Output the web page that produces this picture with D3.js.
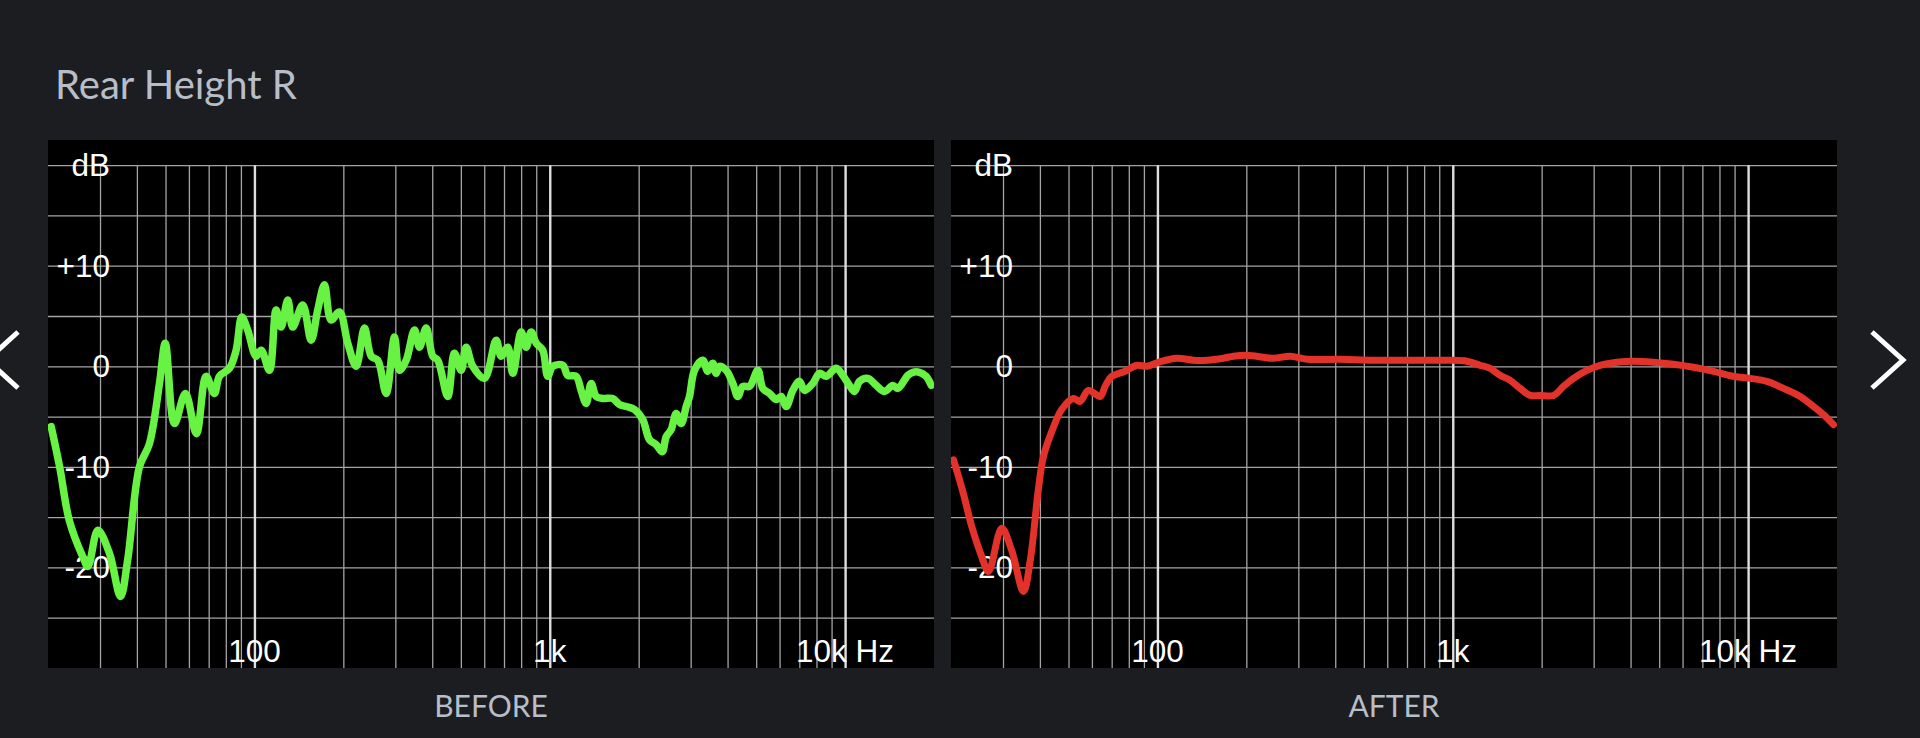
<!DOCTYPE html>
<html>
<head>
<meta charset="utf-8">
<script src="https://cdn.jsdelivr.net/npm/d3@7"></script>
<style>
html, body { margin: 0; padding: 0; background: #1c1d21; overflow: hidden; }
svg { display: block; }
</style>
</head>
<body>
<svg id="chart" width="1920" height="738"></svg>
<script>
// measured response, Hz / dB
var beforeFreq = [20.5, 21.9, 23.6, 26.2, 27.3, 29.5, 32.3, 35.2, 37.2, 40.8, 44.1, 47.7, 49.9, 53.6, 58.4, 63.6,
    68.6, 73.2, 76.1, 82.3, 86.7, 90.6, 94.9, 101.3, 105.4, 112.4, 118.4, 123.1, 129.7, 134.8, 145.7, 155.6,
    163.8, 172.6, 181.8, 194, 207, 221, 235.8, 248.5, 261.6, 279.3, 298, 309.7, 326.4, 348.3, 362.2, 381.4,
    401.7, 417.6, 451.4, 475.6, 501.2, 521.1, 548.6, 600.9, 658.5, 684.6, 720.8, 749.4, 800.1, 831.9, 865,
    899.4, 946.9, 984.5, 1024, 1107, 1151, 1229, 1277, 1328, 1381, 1436, 1512, 1634, 1722, 1814, 1936, 2065,
    2176, 2293, 2403, 2479, 2577, 2679, 2786, 2897, 2973, 3090, 3297, 3428, 3565, 3660, 3755, 3957, 4166,
    4332, 4504, 4747, 5064, 5264, 5546, 5846, 6076, 6318, 6651, 7009, 7288, 7776, 8190, 8630, 9331, 9822,
    10350, 10760, 11190, 11940, 12750, 13600, 14510, 15080, 16310, 16960, 17860, 18820, 19570];
var beforeDb = [-6.0, -10.0, -15.3, -18.9, -19.9, -16.3, -18.6, -22.9, -19.3, -10.0, -7.7, -1.7, 2.3, -5.7, -2.7, -6.7,
    -1.0, -2.7, -1.0, -0.2, 1.6, 4.9, 3.6, 1.0, 1.6, -0.4, 5.6, 3.9, 6.6, 3.9, 6.1, 2.6,
    5.6, 8.1, 4.6, 5.4, 2.3, 0.0, 3.8, 1.0, 0.6, -2.7, 2.9, -0.4, 0.6, 3.6, 1.9, 3.8,
    1.0, 0.6, -3.0, 1.3, -0.4, 1.9, 0.0, -1.2, 2.6, 1.0, 1.9, -0.7, 3.4, 1.9, 3.4,
    2.3, 1.6, -1.0, 0.0, 0.1, -0.9, -1.0, -2.4, -3.7, -1.7, -3.0, -3.2, -3.2, -3.8, -4.0, -4.3, -5.3,
    -7.3, -7.8, -8.5, -7.0, -6.3, -4.7, -5.7, -4.0, -3.0, -0.4, 0.6, -0.5, 0.3, -0.7, 0.0, -0.4, -1.7,
    -3.0, -2.0, -2.0, -0.4, -2.2, -2.7, -3.3, -3.0, -4.0, -2.4, -1.5, -2.4, -1.7, -0.7, -1.0, -0.2, -0.9,
    -1.9, -2.5, -1.5, -1.2, -1.9, -2.5, -1.9, -2.2, -0.9, -0.6, -0.6, -1.0, -1.9];

var afterFreq = [20.4, 22.0, 23.5, 25.4, 26.8, 29.7, 32.1, 35.2, 37.1, 39.5, 41.1, 44.4, 47.4, 51.9, 54.7, 58.4,
    64.0, 66.5, 70.1, 77.7, 85.2, 92.1, 100.8, 116.3, 132.4, 147, 167.3, 180.9, 200.8, 247.1, 281.5, 320.6,
    415.6, 539, 775.7, 979.9, 1116, 1238, 1338, 1447, 1565, 1692, 1829, 1977, 2193, 2371, 2563, 2846,
    3156, 3595, 4092, 4782, 5590, 6533, 7636, 8926, 10160, 11580, 13180, 15010, 16650, 18000, 19460];
var afterDb = [-9.3, -12.6, -15.9, -18.9, -20.4, -16.1, -18.3, -22.4, -19.3, -12.3, -9.0, -6.1, -4.3, -3.2, -3.5, -2.4,
    -3.0, -2.0, -1.0, -0.5, 0.1, 0.0, 0.4, 0.8, 0.6, 0.6, 0.8, 1.0, 1.1, 0.8, 1.0, 0.7,
    0.7, 0.6, 0.6, 0.6, 0.5, 0.1, -0.2, -0.9, -1.4, -2.2, -2.9, -2.9, -2.9, -2.0, -1.2, -0.4,
    0.1, 0.4, 0.5, 0.4, 0.2, -0.1, -0.5, -1.0, -1.2, -1.5, -2.2, -3.0, -4.0, -4.8, -5.8];

var gridDb = [-25, -20, -15, -10, -5, 0, 5, 10, 15, 20];
var yTickDb = [20, 10, 0, -10, -20];
var yTickLabels = ['dB', '+10', '0', '-10', '-20'];
var xTickFreqs = [100, 1000, 10000];
var xTickLabels = ['100', '1k', '10k Hz'];

var panels = [
    {name: 'BEFORE', left: 48, freq: beforeFreq, db: beforeDb, color: '#68f243', width: 7.5},
    {name: 'AFTER', left: 951, freq: afterFreq, db: afterDb, color: '#e3322a', width: 7}
];

var W = 886, plotTop = 140, plotBottom = 668;
var svg = d3.select('#chart');

svg.append('text')
    .attr('x', 55)
    .attr('y', 99)
    .attr('fill', '#b8bec8')
    .style('font', '40px Lato')
    .text('Rear Height R');

var y = d3.scaleLinear().domain([-30, 22.5]).range([plotBottom, plotTop]);

panels.forEach(function(p, pi) {
    var x = d3.scaleLog().domain([20, 20000]).range([p.left, p.left + W]);
    var g = svg.append('g');

    g.append('rect')
        .attr('x', p.left).attr('y', plotTop)
        .attr('width', W).attr('height', plotBottom - plotTop)
        .attr('fill', '#000');

    // horizontal grid
    g.append('g')
        .attr('transform', 'translate(' + p.left + ',0)')
        .call(d3.axisLeft(y).tickValues(gridDb).tickSize(-W).tickFormat(''))
        .call(function(a) {
            a.select('.domain').remove();
            a.selectAll('line').attr('stroke', '#a4a4a4').attr('stroke-width', 1.3);
        });

    // vertical grid, decades brighter
    var vt = x.ticks().filter(function(f) { return f > 20 && f < 20000; });
    g.append('g')
        .attr('transform', 'translate(0,' + plotBottom + ')')
        .call(d3.axisBottom(x).tickValues(vt).tickSize(-(plotBottom - y(20))).tickFormat(''))
        .call(function(a) {
            a.select('.domain').remove();
            a.selectAll('line')
                .attr('stroke', function(f) { return xTickFreqs.indexOf(f) >= 0 ? '#dedede' : '#a4a4a4'; })
                .attr('stroke-width', function(f) { return xTickFreqs.indexOf(f) >= 0 ? 2.4 : 1.3; });
        });

    g.selectAll('.ylab')
        .data(yTickDb)
        .enter().append('text')
        .attr('x', p.left + 62)
        .attr('y', function(d) { return y(d) + 11; })
        .attr('text-anchor', 'end')
        .attr('fill', '#fff')
        .style('font', '31.5px "Liberation Sans"')
        .text(function(d, i) { return yTickLabels[i]; });

    g.selectAll('.xlab')
        .data(xTickFreqs)
        .enter().append('text')
        .attr('x', function(d) { return x(d); })
        .attr('y', 662)
        .attr('text-anchor', 'middle')
        .attr('fill', '#fff')
        .style('font', '31.5px "Liberation Sans"')
        .text(function(d, i) { return xTickLabels[i]; });

    g.append('clipPath').attr('id', 'clip' + pi)
        .append('rect')
        .attr('x', p.left).attr('y', plotTop)
        .attr('width', W).attr('height', plotBottom - plotTop);

    var line = d3.line()
        .x(function(d, i) { return x(p.freq[i]); })
        .y(function(d) { return y(d); })
        .curve(d3.curveCatmullRom.alpha(0.5));

    g.append('path')
        .attr('clip-path', 'url(#clip' + pi + ')')
        .attr('d', line(p.db))
        .attr('fill', 'none')
        .attr('stroke', p.color)
        .attr('stroke-width', p.width)
        .attr('stroke-linejoin', 'round')
        .attr('stroke-linecap', 'round');

    svg.append('text')
        .attr('x', p.left + W / 2)
        .attr('y', 717)
        .attr('text-anchor', 'middle')
        .attr('fill', '#b8bec8')
        .style('font', '30px Lato')
        .text(p.name);
});

// navigation chevrons
var chev = d3.line();
svg.append('path')
    .attr('d', chev([[18, 332], [-13, 360], [18, 388]]))
    .attr('fill', 'none').attr('stroke', '#fff').attr('stroke-width', 5);
svg.append('path')
    .attr('d', chev([[1872, 332], [1903, 360], [1872, 388]]))
    .attr('fill', 'none').attr('stroke', '#fff').attr('stroke-width', 5);
</script>
</body>
</html>
